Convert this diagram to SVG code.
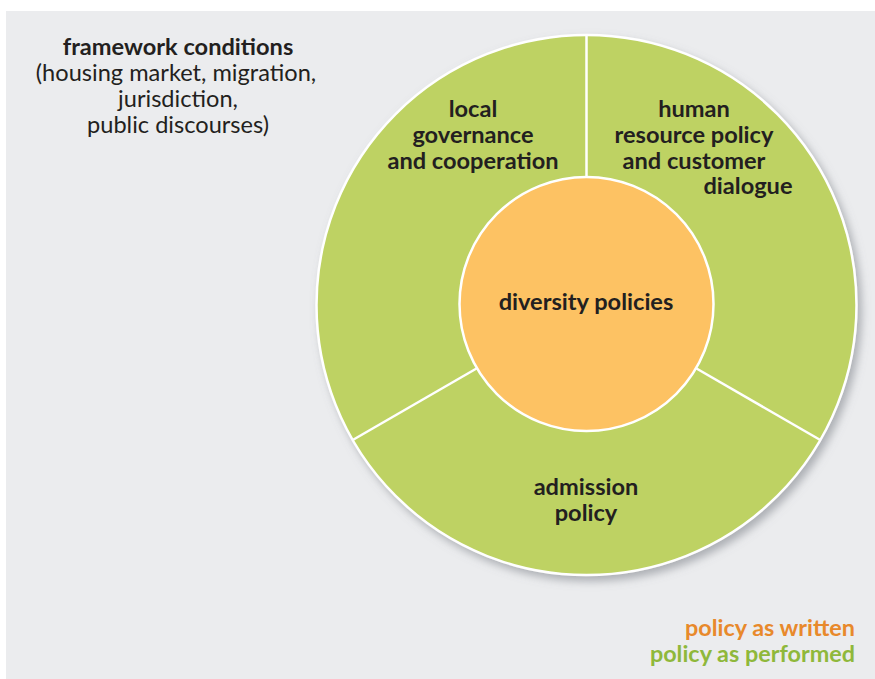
<svg xmlns="http://www.w3.org/2000/svg" width="875" height="679" viewBox="0 0 875 679">
<style>
.t{font-family:Lato,"Open Sans","Liberation Sans",sans-serif;fill:#231f20;font-size:23.6px;text-anchor:middle}
.b{font-weight:bold}
.seg{fill:#bed264;stroke:#fff;stroke-width:2.5}
.div{stroke:#fff;stroke-width:2.5;fill:none}
.leg{font-family:Lato,"Open Sans","Liberation Sans",sans-serif;font-weight:bold;font-size:23.4px;text-anchor:end}
</style>
<defs>
<filter id="sh" x="-10%" y="-10%" width="125%" height="125%">
<feDropShadow dx="4" dy="5" stdDeviation="4" flood-color="#7a7d85" flood-opacity="0.55"/>
</filter>
</defs>
<rect x="0" y="0" width="875" height="679" fill="#fff"/>
<rect x="6" y="11" width="869" height="668" fill="#ebecee"/>
<g id="framework">
<text class="t b" x="178" y="55">framework conditions</text>
<text class="t" x="176" y="81">(housing market, migration,</text>
<text class="t" x="178" y="107">jurisdiction,</text>
<text class="t" x="178" y="133">public discourses)</text>
</g>
<g id="outer-ring">
<circle class="seg" cx="586.5" cy="305" r="270" filter="url(#sh)"/>
</g>
<g id="connectors">
<line class="div" x1="586.5" y1="35" x2="586.5" y2="177"/>
<line class="div" x1="476.5" y1="368.5" x2="352.7" y2="440"/>
<line class="div" x1="696.5" y1="368.5" x2="820.3" y2="440"/>
</g>
<g id="local-governance">
<text class="t b" x="473" y="117">local</text>
<text class="t b" x="473" y="143">governance</text>
<text class="t b" x="473" y="169">and cooperation</text>
</g>
<g id="human-resource">
<text class="t b" x="694" y="117">human</text>
<text class="t b" x="694" y="143">resource policy</text>
<text class="t b" x="694" y="169">and customer</text>
<text class="t b" x="748" y="194">dialogue</text>
</g>
<g id="admission">
<text class="t b" x="586" y="495">admission</text>
<text class="t b" x="586" y="521">policy</text>
</g>
<g id="diversity">
<circle cx="586.5" cy="304" r="127" fill="#fdc263" stroke="#fff" stroke-width="2.5"/>
<text class="t b" x="586" y="310">diversity policies</text>
</g>
<g id="legend">
<text class="leg" x="855" y="636" fill="#e8892b">policy as written</text>
<text class="leg" x="855" y="662" fill="#8fb83b">policy as performed</text>
</g>
</svg>
